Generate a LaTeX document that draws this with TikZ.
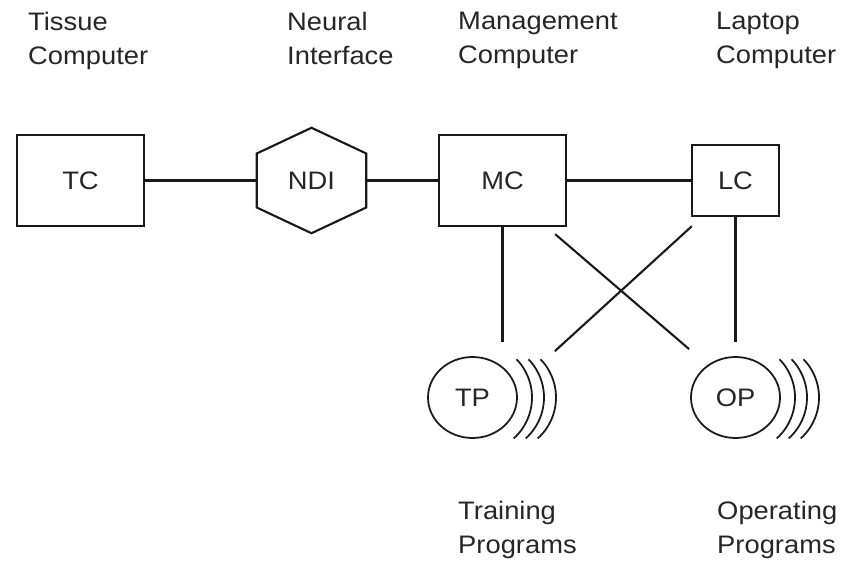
\documentclass[tikz,border=0pt]{standalone}
\usepackage{fontspec}
\setmainfont{Liberation Sans}[FakeStretch=1.08]
\usetikzlibrary{positioning, calc, shapes.geometric}

\begin{document}
\begin{tikzpicture}[node distance=6.9cm, on grid,
                    every node/.style={font=\fontsize{21.6}{29}\selectfont, text=black!85},
                    link/.style={draw=black!90, line width=1.8pt},
                    unit/.style={draw=black!90, line width=2pt, minimum width=3.81cm, minimum height=2.73cm},
                    prog/.style={draw=black!90, ellipse, line width=1.5pt, minimum width=2.67cm, minimum height=2.43cm},
                    caption/.style={anchor=north west, align=left, inner sep=0pt}]
             \useasboundingbox (-2.415,5.415) rectangle (23.025,-11.475);
             \node[unit] (TC) {TC};
             \node[minimum width=3.27cm, minimum height=3.15cm] (NDI) [right=6.93cm of TC] {NDI};
             \node[unit] (MC) [right=5.73cm of NDI] {MC};
             \node[unit, minimum width=2.61cm, minimum height=2.13cm] (LC) [right=6.99cm of MC] {LC};
             \node[prog] (TP) [below=6.51cm of MC, xshift=-0.9cm] {TP};
             \node[prog] (OP) [below=6.51cm of LC] {OP};
             \draw[draw=black!90, line width=1.8pt] (NDI.north) -- ([yshift=0.81cm]NDI.east) -- ([yshift=-0.81cm]NDI.east)
                  -- (NDI.south) -- ([yshift=-0.81cm]NDI.west) -- ([yshift=0.81cm]NDI.west) -- cycle;
             \foreach \n in {TP, OP}
               \foreach \d in {0.135, 0.495, 0.855}
                 \draw[draw=black!90, line width=1.5pt] ([xshift=\d cm]\n.center) ++(-48:1.65) arc (-48:44:1.65);
             \coordinate (tp top) at ([yshift=0.42cm]TP.north);
             \coordinate (mc out) at ([xshift=-0.36cm, yshift=-0.21cm]MC.south east);
             \coordinate (op in) at ($(OP.north -| OP.west)+(-0.03,0.21)$);
             \coordinate (lc out) at ([xshift=0.03cm, yshift=-0.27cm]LC.south west);
             \coordinate (tp in) at ($(TP.north -| TP.east)+(1.11,0.15)$);
             \path[link]
             (TC) edge (NDI)
             (NDI) edge (MC)
             (MC) edge (LC)
             (MC.south) edge (MC.south |- tp top)
             (LC) edge[shorten >=0.42cm] (OP)
             (mc out) edge (op in)
             (lc out) edge (tp in);
             \node[caption] (tc text) at (-1.575,5.055) {Tissue\\Computer};
             \node[caption] (ndi text) at (6.195,5.055) {Neural\\Interface};
             \node[caption] (mc text) at (11.325,5.055) {Management\\Computer};
             \node[caption] (lc text) at (19.065,5.055) {Laptop\\Computer};
             \node[caption] (tp text) at (11.325,-9.615) {Training\\Programs};
             \node[caption] (op text) at (19.095,-9.615) {Operating\\Programs};
\end{tikzpicture}
\end{document}
